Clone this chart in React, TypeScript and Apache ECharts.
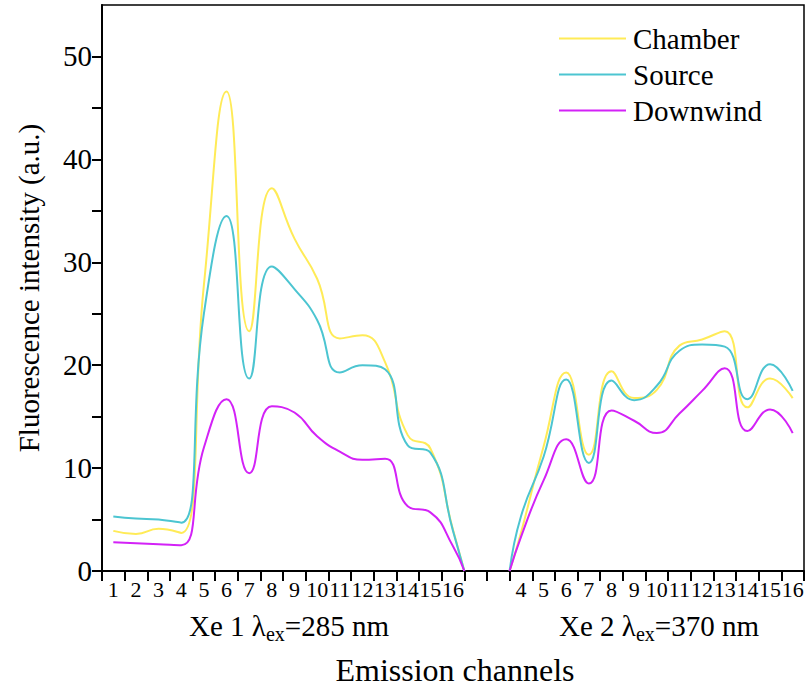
import React, { useEffect, useRef } from "react";
import * as echarts from "echarts";

const FONT = "Liberation Serif, Times New Roman, serif";

// Emission channels of each excitation segment
const xe1Channels = [1, 2, 3, 4, 5, 6, 7, 8, 9, 10, 11, 12, 13, 14, 15, 16];
const xe2Channels = [4, 5, 6, 7, 8, 9, 10, 11, 12, 13, 14, 15, 16];
const gapBands = 2; // empty categories between the two segments

const seriesNames = ["Chamber", "Source", "Downwind"];
const seriesColors = ["#FFEB57", "#4CC5D1", "#D322F7"];

// Fluorescence intensity (a.u.)
const chamberXe1 = [3.9, 3.6, 4.1, 3.7, 27.8, 46.6, 23.3, 37.2, 32.3, 28.4, 22.6, 22.9, 20.3, 13.2, 11.9, 4.0];
const sourceXe1 = [5.3, 5.1, 5.0, 4.7, 25.0, 34.5, 18.7, 29.6, 27.4, 24.4, 19.3, 20.0, 19.6, 12.2, 11.5, 3.9];
const downwindXe1 = [2.8, 2.7, 2.6, 2.5, 12.0, 16.7, 9.5, 16.0, 15.4, 13.1, 11.6, 10.8, 10.9, 6.3, 5.7, 2.4];

const chamberXe2 = [3.7, 12.1, 19.3, 11.3, 19.4, 16.8, 17.6, 21.9, 22.5, 23.3, 15.9, 18.7, 16.8];
const sourceXe2 = [5.3, 11.1, 18.6, 10.5, 18.5, 16.6, 18.0, 21.4, 22.0, 21.8, 16.7, 20.1, 17.5];
const downwindXe2 = [3.3, 8.8, 12.8, 8.5, 15.6, 14.6, 13.4, 15.3, 17.5, 19.7, 13.6, 15.7, 13.4];

// Segment ends fall to zero at the band edges
const edgeValue = 0;

const yTickValues = [0, 5, 10, 15, 20, 25, 30, 35, 40, 45, 50];
const yLabelValues = [0, 10, 20, 30, 40, 50];
const yMax = 55;

// Segment titles: [before subscript, subscript, after subscript]
const segmentTitles = [
  ["Xe 1 λ", "ex", "=285 nm"],
  ["Xe 2 λ", "ex", "=370 nm"],
];

const categories = [
  ...xe1Channels.map(String),
  ...Array.from({ length: gapBands }, () => ""),
  ...xe2Channels.map(String),
];

function buildData(seg1: number[], seg2: number[]) {
  const data: any[] = [];
  seg1.forEach((v, i) => data.push([i + 1, v]));
  data.push([seg1.length + 0.5, edgeValue]);
  data.push([seg1.length + 1, "-"]);
  const start2 = xe1Channels.length + gapBands;
  data.push([start2 + 0.5, edgeValue]);
  seg2.forEach((v, i) => data.push([start2 + i + 1, v]));
  return data;
}

const allSeries = [
  [chamberXe1, chamberXe2],
  [sourceXe1, sourceXe2],
  [downwindXe1, downwindXe2],
];

function measure(text: string, size: number) {
  const c = document.createElement("canvas").getContext("2d");
  if (!c) return text.length * size * 0.5;
  c.font = `${size}px ${FONT}`;
  return c.measureText(text).width;
}

function subscriptTitle(parts: string[], cx: number, cy: number) {
  const main = 29;
  const sub = 20;
  const w = [measure(parts[0], main), measure(parts[1], sub), measure(parts[2], main)];
  const total = w[0] + w[1] + w[2];
  let x = cx - total / 2;
  const els: any[] = [];
  parts.forEach((t, i) => {
    const isSub = i === 1;
    els.push({
      type: "text",
      x,
      y: isSub ? cy + 8 : cy,
      style: {
        text: t,
        align: "left",
        verticalAlign: "middle",
        fontSize: isSub ? sub : main,
        fontFamily: FONT,
        fill: "#000",
      },
    });
    x += w[i];
  });
  return els;
}

export default function App() {
  const ref = useRef<HTMLDivElement>(null);
  useEffect(() => {
    if (!ref.current) return;
    const chart = echarts.init(ref.current, null, { renderer: "svg" });
    const black = { color: "#000", width: 2 };
    const option: any = {
      animation: false,
      textStyle: { fontFamily: FONT },
      grid: {
        left: 102,
        right: 4,
        top: 5,
        bottom: 119,
        show: true,
        borderColor: "#000",
        borderWidth: 1.5,
      },
      legend: {
        orient: "vertical",
        left: 554,
        top: 19,
        itemWidth: 67,
        itemHeight: 2,
        itemGap: 7,
        icon: "rect",
        align: "left",
        data: seriesNames,
        textStyle: { fontSize: 29, fontFamily: FONT, color: "#000", lineHeight: 29, padding: [0, 0, 0, 2] },
      },
      xAxis: [
        {
          type: "category",
          data: categories,
          boundaryGap: true,
          axisLine: { lineStyle: black },
          axisTick: { show: true, interval: 0, length: 10, lineStyle: black },
          axisLabel: { interval: 0, margin: 7, fontSize: 22, fontFamily: FONT, color: "#000" },
          splitLine: { show: false },
        },
        {
          type: "value",
          min: 0.5,
          max: categories.length + 0.5,
          show: false,
          splitLine: { show: false },
        },
      ],
      yAxis: {
        type: "value",
        min: 0,
        max: yMax,
        axisLine: { show: true, lineStyle: black },
        axisTick: { show: true, length: 10, lineStyle: black, customValues: yTickValues },
        axisLabel: {
          customValues: yLabelValues,
          fontSize: 29,
          fontFamily: FONT,
          color: "#000",
          margin: 10,
        },
        splitLine: { show: false },
        name: "Fluorescence intensity (a.u.)",
        nameLocation: "middle",
        nameRotate: 90,
        nameGap: 59,
        nameTextStyle: { fontSize: 29, fontFamily: FONT, color: "#000" },
      },
      series: allSeries.map(([s1, s2], k) => ({
        name: seriesNames[k],
        type: "line",
        xAxisIndex: 1,
        data: buildData(s1, s2),
        smooth: 0.5,
        symbol: "none",
        connectNulls: false,
        color: seriesColors[k],
        lineStyle: { width: 2, color: seriesColors[k] },
      })),
      graphic: [
        ...subscriptTitle(segmentTitles[0], 289, 626),
        ...subscriptTitle(segmentTitles[1], 659, 626),
        {
          type: "text",
          x: 455,
          y: 670,
          style: {
            text: "Emission channels",
            align: "center",
            verticalAlign: "middle",
            fontSize: 32,
            fontFamily: FONT,
            fill: "#000",
          },
        },
      ],
    };
    chart.setOption(option);
    return () => chart.dispose();
  }, []);
  return (
    <div
      ref={ref}
      style={{ position: "fixed", left: 0, top: 0, width: 808, height: 690, background: "#fff" }}
    />
  );
}
